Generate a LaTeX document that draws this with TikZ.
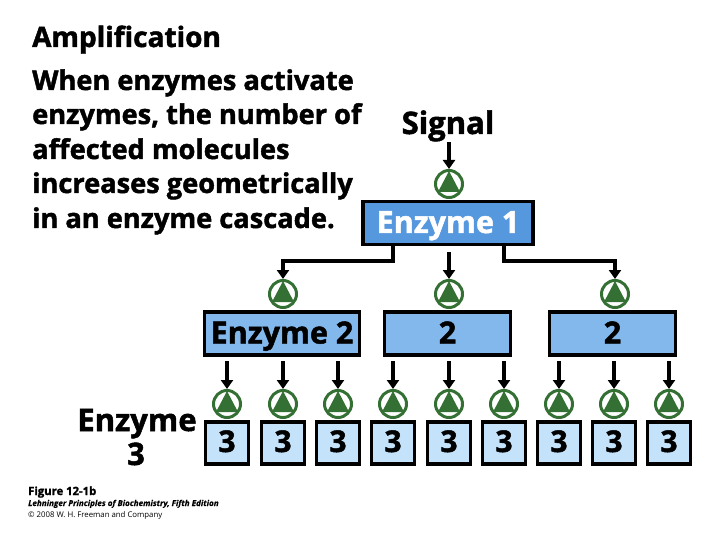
\documentclass[tikz,border=0pt]{standalone}
\usepackage{fontspec}
\setmainfont[BoldFeatures={FakeBold=1.6},BoldItalicFeatures={FakeBold=0.6}]{Open Sans}
\usetikzlibrary{arrows.meta,calc}
\definecolor{midblue}{RGB}{86,152,222}
\definecolor{lightblue}{RGB}{196,226,250}
\definecolor{lvltwo}{RGB}{130,184,236}
\definecolor{leaf}{RGB}{52,112,52}
\tikzset{
  x=1pt,y=-1pt,
  conn/.style={line width=3.2pt,draw=black,-{Triangle[length=9pt,width=12pt]}},
  enzbox/.style={draw=black,line width=3.2pt,inner sep=0pt,text height=20pt,text depth=0pt,minimum height=43pt},
  lone/.style={enzbox,fill=midblue,minimum width=170pt,text=white,font=\fontsize{30.5}{30.5}\selectfont\bfseries},
  ltwo/.style={enzbox,fill=lvltwo,minimum width=125.5pt,minimum height=43pt,font=\fontsize{30.5}{30.5}\selectfont\bfseries},
  lthree/.style={enzbox,fill=lightblue,minimum width=43pt,minimum height=42pt,text height=18pt,font=\fontsize{30}{30}\selectfont\bfseries},
  ring/.style={circle,draw=leaf,line width=3pt,fill=white,minimum size=27pt,inner sep=0pt},
  head/.style={anchor=base west,inner sep=0pt,font=\fontsize{27.2}{27.2}\selectfont\bfseries},
  big/.style={inner sep=0pt,anchor=base,font=\fontsize{31}{31}\selectfont\bfseries},
}
\newcommand{\ringat}[3]{%
  \node[ring] (#1) at (#2,#3) {};
  \fill[leaf] (#2,#3-13) -- (#2+11,#3+8) -- (#2-11,#3+8) -- cycle;
}
\begin{document}
\begin{tikzpicture}
\useasboundingbox (0,0) rectangle (720,540);
\node[head,font=\fontsize{28}{28}\selectfont\bfseries] (tt) at (32,47) {Amplification};
\node[head] (l1) at (32,90) {When enzymes activate};
\node[head] (l2) at (32,124) {enzymes, the number of};
\node[head] (l3) at (32,159) {affected molecules};
\node[head] (l4) at (32,193) {increases geometrically};
\node[head] (l5) at (32,228) {in an enzyme cascade.};
\node[big] (sig) at (448,134) {Signal};
\node[lone] (e1) at (448,223) {Enzyme 1};
\ringat{r0}{449}{184}
\node[ltwo,minimum width=155pt] (e2a) at (282,333.5) {Enzyme 2};
\node[ltwo] (e2b) at (447.5,333.5) {2};
\node[ltwo] (e2c) at (612.5,333.5) {2};
\ringat{ra}{283}{294}
\ringat{rb}{449}{294}
\ringat{rc}{615}{294}
\coordinate (st) at (449,142);
\draw[conn] (st) -- (r0.north);
\coordinate (bl) at (393,245);
\coordinate (br) at (504,245);
\coordinate (blc) at (393,261);
\coordinate (brc) at (504,261);
\coordinate (bla) at (283,261);
\coordinate (brb) at (615,261);
\coordinate (cs) at (449,252);
\draw[conn] (bl) -- (blc) -- (bla) -- (ra.north);
\draw[conn] (br) -- (brc) -- (brb) -- (rc.north);
\draw[conn] (cs) -- (rb.north);
\foreach \n/\x in {1/227,2/283,3/338,4/393,5/449,6/504,7/559,8/614,9/669}{
  \ringat{q\n}{\x}{404}
  \node[lthree] (b\n) at (\x,443) {3};
  \coordinate (s\n) at (\x,361);
  \draw[conn] (s\n) -- (q\n.north);
}
\node[big] (e3a) at (137,431) {Enzyme};
\node[big] (e3b) at (136,465) {3};
\node[anchor=base west,inner sep=0pt,font=\fontsize{11.3}{11.3}\selectfont\bfseries] (f1) at (28,495) {Figure 12-1b};
\node[anchor=base west,inner sep=0pt,font=\fontsize{8.1}{8.1}\selectfont\bfseries\itshape] (f2) at (28,506) {Lehninger Principles of Biochemistry, Fifth Edition};
\node[anchor=base west,inner sep=0pt,font=\fontsize{7.8}{7.8}\selectfont] (f3) at (28,517) {© 2008 W. H. Freeman and Company};
\end{tikzpicture}
\end{document}
